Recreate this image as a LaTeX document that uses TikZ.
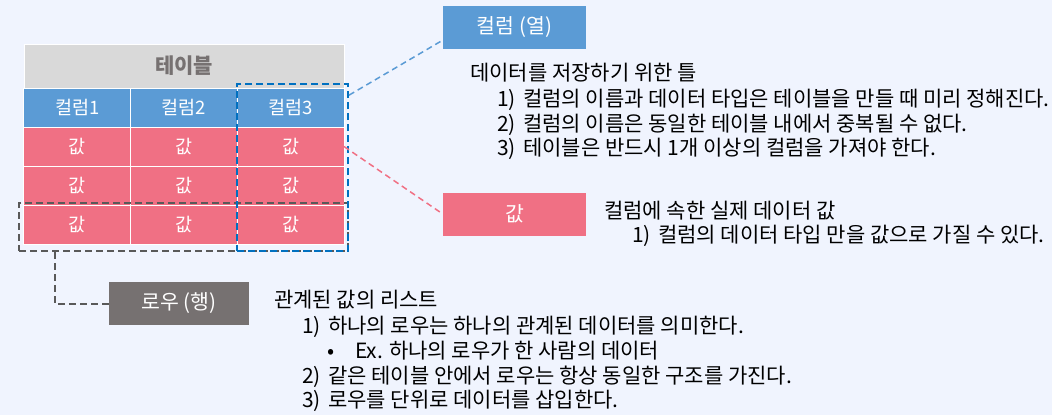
\documentclass[tikz,border=0pt]{standalone}
\usepackage{fontspec}
\setmainfont{Noto Sans CJK KR}
\usepackage{tikz}
\usetikzlibrary{positioning}
\definecolor{bgcol}{HTML}{F0F4FE}
\definecolor{colblue}{HTML}{5B9BD5}
\definecolor{valpink}{HTML}{F07084}
\definecolor{rowgray}{HTML}{767171}
\definecolor{titlegray}{HTML}{D9D9D9}
\definecolor{selblue}{HTML}{0070C0}
\definecolor{selgray}{HTML}{595959}

\begin{document}
\begin{tikzpicture}[x=1pt,y=-1pt,node distance=0pt]
  \tikzstyle{cell}=[draw=white,line width=1pt,outer sep=0pt,inner sep=0pt,minimum width=106.67pt,minimum height=39pt,text=white,font=\fontsize{18.5}{18.5}\selectfont]
  \tikzstyle{head}=[cell,fill=colblue]
  \tikzstyle{val}=[cell,fill=valpink]
  \tikzstyle{tag}=[minimum width=143pt,minimum height=43pt,inner sep=0pt,text=white,font=\fontsize{20.5}{20.5}\selectfont]
  \tikzstyle{txt}=[anchor=base west,inner sep=0pt,text=black,font=\fontsize{21}{21}\selectfont]
  \tikzstyle{sel}=[draw,line width=2pt,dash pattern=on 7pt off 4pt,inner sep=0pt]
  \tikzstyle{link}=[line width=1.5pt,dash pattern=on 6pt off 4pt]
\fill[bgcol] (0,0) rectangle (1052,415);
\useasboundingbox (0,0) rectangle (1052,415);
\node[head] (c1) at (77.33,107.5) {컬럼1};
\node[head] (c2) [right=of c1] {컬럼2};
\node[head] (c3) [right=of c2] {컬럼3};
\node[cell,fill=titlegray,minimum width=320pt,minimum height=44pt,text=rowgray,font=\fontsize{21}{21}\selectfont\bfseries] (tbl) [above=of c2] {테이블};
\node[val] (v11) [below=of c1] {값};
\node[val] (v12) [below=of c2] {값};
\node[val] (v13) [below=of c3] {값};
\node[val] (v21) [below=of v11] {값};
\node[val] (v22) [below=of v12] {값};
\node[val] (v23) [below=of v13] {값};
\node[val] (v31) [below=of v21] {값};
\node[val] (v32) [below=of v22] {값};
\node[val] (v33) [below=of v23] {값};
\node[sel,selgray,minimum width=329pt,minimum height=48pt] (rowsel) at (183.5,227) {};
\node[sel,selblue,minimum width=111pt,minimum height=167pt] (colsel) at (292.5,167.5) {};
\node[tag,fill=colblue] (col) at (514.5,27.5) {컬럼 (열)};
\node[tag,fill=valpink] (val) at (514.5,214) {값};
\node[tag,fill=rowgray,minimum width=140pt] (row) at (179,303.5) {로우 (행)};
\node[txt] (ct0) at (470,80) {데이터를 저장하기 위한 틀};
\node[txt] (ct1) at (497,106) {\makebox[26pt][l]{1)}컬럼의 이름과 데이터 타입은 테이블을 만들 때 미리 정해진다.};
\node[txt] (ct2) at (497,131) {\makebox[26pt][l]{2)}컬럼의 이름은 동일한 테이블 내에서 중복될 수 없다.};
\node[txt] (ct3) at (497,155) {\makebox[26pt][l]{3)}테이블은 반드시 1개 이상의 컬럼을 가져야 한다.};
\node[txt] (vt0) at (604,218) {컬럼에 속한 실제 데이터 값};
\node[txt] (vt1) at (632,242) {\makebox[26pt][l]{1)}컬럼의 데이터 타입 만을 값으로 가질 수 있다.};
\node[txt] (rt0) at (274,307) {관계된 값의 리스트};
\node[txt] (rt1) at (302,333) {\makebox[26pt][l]{1)}하나의 로우는 하나의 관계된 데이터를 의미한다.};
\node[txt] (rt1a) at (327,358) {\makebox[28pt][l]{•}Ex. 하나의 로우가 한 사람의 데이터};
\node[txt] (rt2) at (302,383) {\makebox[26pt][l]{2)}같은 테이블 안에서 로우는 항상 동일한 구조를 가진다.};
\node[txt] (rt3) at (302,407) {\makebox[26pt][l]{3)}로우를 단위로 데이터를 삽입한다.};
\draw[link,colblue] (colsel.52) -- (col.190);
\draw[link,valpink] (v13.east) -- (val.west);
\draw[sel,selgray] (rowsel.191) |- (row.west);
\end{tikzpicture}
\end{document}
